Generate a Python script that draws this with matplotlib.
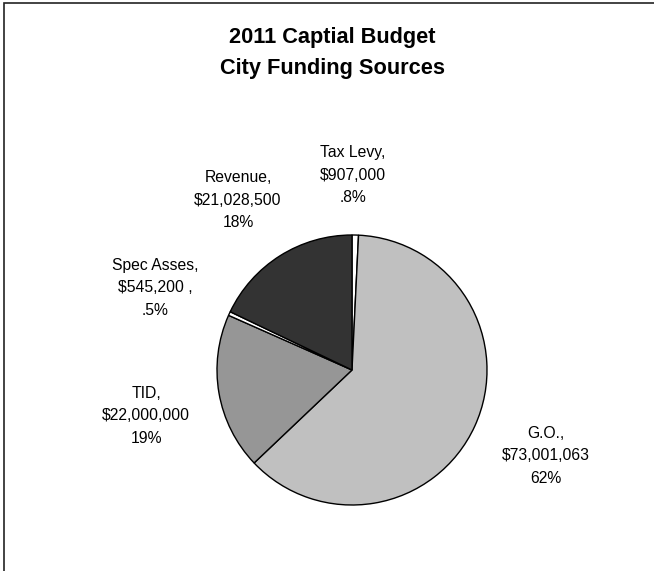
import matplotlib
matplotlib.use("Agg")
import matplotlib.pyplot as plt
from matplotlib.patches import Rectangle

plt.rcParams['font.family'] = ['Liberation Sans', 'DejaVu Sans']

# funding sources, clockwise from 12 o'clock
sources = ["Tax Levy", "G.O.", "TID", "Spec Asses", "Revenue"]
amounts = [907000, 73001063, 22000000, 545200, 21028500]
amount_suffix = ["", "", "", " ,", ""]
shades = ["#FFFFFF", "#C0C0C0", "#969696", "#FFFFFF", "#333333"]

# label anchor (pixel x, pixel y from top) for the middle line of each label
label_px = [(353, 175), (546, 456), (146, 416), (155, 288), (238, 200)]

W, H = 654, 571
fig = plt.figure(figsize=(W / 100, H / 100), dpi=100)
fig.patch.set_facecolor("white")

# outer frame, only the top and left edges fall inside the image
fig.patches.append(Rectangle((4 / W, -0.1), 1.2, (H - 3) / H + 0.1,
                             transform=fig.transFigure, fill=False,
                             edgecolor="#222222", linewidth=1.2, clip_on=False))

fig.text(332 / W, 1 - 53 / H, "2011 Captial Budget\nCity Funding Sources",
         ha="center", va="center", fontsize=15.7, fontweight="bold",
         linespacing=1.58)

cx, cy, r = 352, 370, 135
ax = fig.add_axes([(cx - r) / W, (H - cy - r) / H, 2 * r / W, 2 * r / H])
ax.pie(amounts, colors=shades, startangle=90, counterclock=False,
       wedgeprops=dict(edgecolor="black", linewidth=1.0))
ax.set_xlim(-1.0, 1.0)
ax.set_ylim(-1.0, 1.0)
ax.axis("off")

total = sum(amounts)
for name, amt, suf, (px, py) in zip(sources, amounts, amount_suffix, label_px):
    pct = amt / total * 100
    if pct < 1:
        pct_txt = f"{pct:.1f}%".lstrip("0")
    else:
        pct_txt = f"{pct:.0f}%"
    txt = f"{name},\n${amt:,}{suf}\n{pct_txt}"
    fig.text(px / W, 1 - py / H, txt, ha="center", va="center",
             fontsize=11.3, linespacing=1.62, multialignment="center")

fig.savefig("out.png", dpi=100, facecolor="white")
